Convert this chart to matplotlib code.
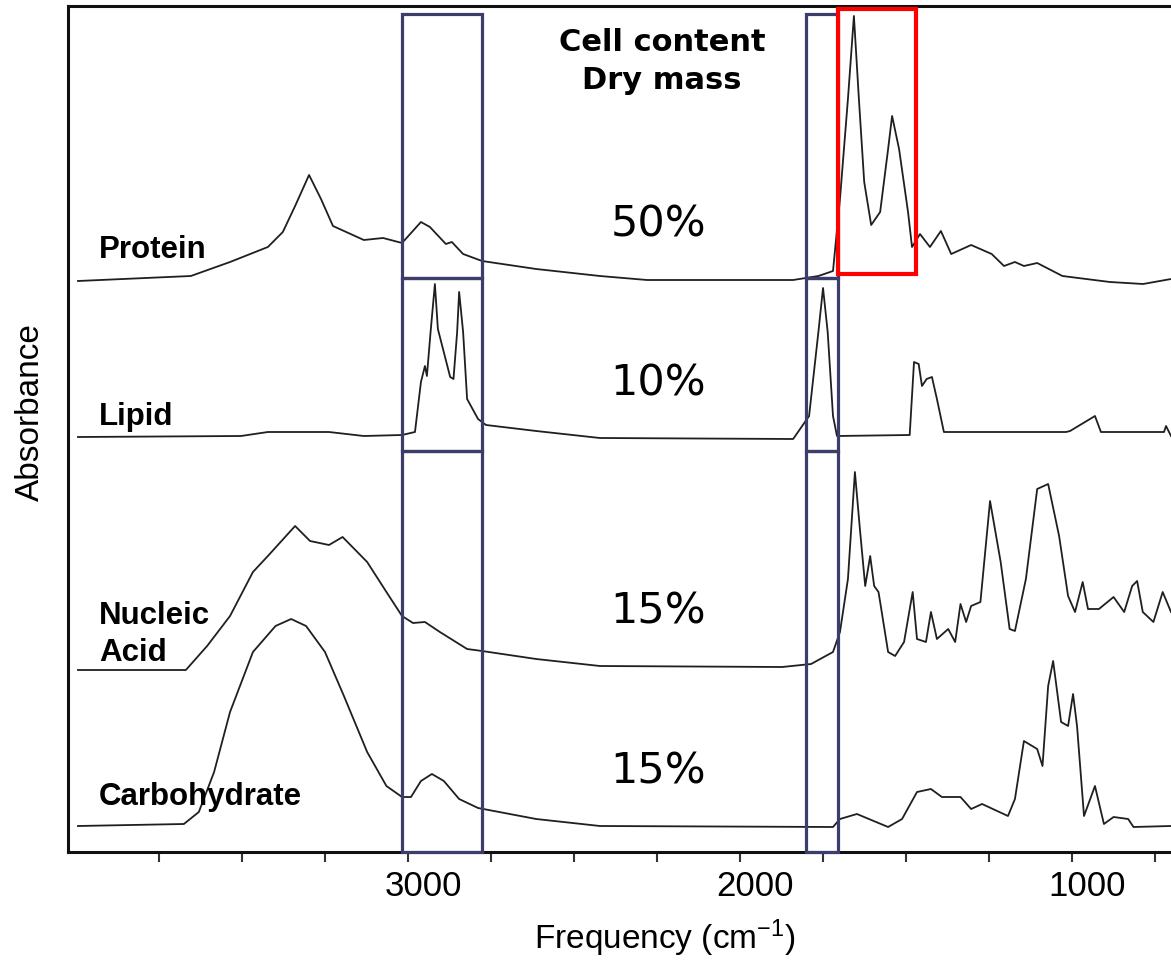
import numpy as np
import matplotlib.pyplot as plt
from matplotlib.patches import Rectangle
from matplotlib.transforms import ScaledTranslation

plt.rcParams['mathtext.default'] = 'regular'

# IR spectra: wavenumber (cm-1) and absorbance above each trace's own baseline
protein_wn = [3994, 3654, 3536, 3422, 3377, 3340, 3298, 3262, 3226, 3133, 3075, 3018,
              2961, 2934, 2886, 2868, 2834, 2777, 2614, 2422, 2280, 1840, 1764, 1720,
              1699, 1675, 1657, 1642, 1626, 1605, 1578, 1554, 1542, 1521, 1494, 1482,
              1458, 1428, 1395, 1364, 1304, 1242, 1205, 1172, 1145, 1105, 1029, 886,
              786, 702]
protein_abs = [0.00, 0.05, 0.19, 0.34, 0.49, 0.75, 1.06, 0.82, 0.55, 0.41, 0.43, 0.38,
               0.59, 0.54, 0.37, 0.39, 0.27, 0.20, 0.12, 0.05, 0.01, 0.01, 0.05, 0.10,
               0.82, 1.82, 2.65, 1.82, 0.99, 0.56, 0.69, 1.32, 1.65, 1.32, 0.69, 0.34,
               0.47, 0.34, 0.50, 0.27, 0.36, 0.27, 0.15, 0.19, 0.15, 0.18, 0.05, -0.01,
               -0.03, 0.02]

lipid_wn = [3994, 3503, 3422, 3238, 3133, 3018, 2979, 2961, 2949, 2943, 2932, 2919,
            2910, 2873, 2863, 2852, 2846, 2834, 2822, 2789, 2765, 2614, 2422, 1840,
            1792, 1764, 1750, 1736, 1720, 1708, 1489, 1476, 1462, 1452, 1438, 1422,
            1407, 1386, 1018, 1006, 931, 913, 723, 717, 702]
lipid_abs = [0.00, 0.01, 0.05, 0.05, 0.01, 0.02, 0.05, 0.55, 0.71, 0.61, 1.05, 1.53,
             1.08, 0.60, 0.58, 1.05, 1.45, 1.05, 0.38, 0.18, 0.12, 0.06, -0.01, -0.02,
             0.21, 1.05, 1.49, 1.05, 0.21, 0.01, 0.02, 0.75, 0.73, 0.51, 0.58, 0.60,
             0.38, 0.05, 0.05, 0.06, 0.21, 0.05, 0.05, 0.11, 0.01]

nucleic_wn = [3994, 3669, 3605, 3536, 3467, 3422, 3340, 3295, 3238, 3197, 3123, 3065,
              3018, 2985, 2949, 2904, 2822, 2777, 2614, 2422, 1873, 1786, 1720, 1699,
              1675, 1654, 1639, 1623, 1608, 1596, 1583, 1578, 1554, 1533, 1506, 1480,
              1467, 1440, 1425, 1407, 1373, 1352, 1336, 1319, 1304, 1276, 1247, 1215,
              1188, 1172, 1139, 1105, 1072, 1039, 1012, 991, 968, 952, 919, 875, 843,
              819, 804, 787, 755, 727, 702]
nucleic_abs = [0.00, 0.00, 0.24, 0.54, 0.98, 1.14, 1.44, 1.29, 1.25, 1.33, 1.08, 0.78,
               0.54, 0.47, 0.48, 0.38, 0.21, 0.19, 0.11, 0.04, 0.03, 0.06, 0.18, 0.38,
               0.91, 1.98, 1.41, 0.84, 1.14, 0.84, 0.78, 0.68, 0.18, 0.14, 0.28, 0.78,
               0.31, 0.28, 0.58, 0.31, 0.41, 0.28, 0.66, 0.48, 0.64, 0.68, 1.69, 1.08,
               0.41, 0.39, 0.91, 1.81, 1.86, 1.34, 0.74, 0.58, 0.88, 0.61, 0.61, 0.73,
               0.58, 0.84, 0.89, 0.58, 0.48, 0.78, 0.58]

carb_wn = [3994, 3675, 3630, 3584, 3536, 3467, 3399, 3352, 3307, 3250, 3193, 3123,
           3065, 3018, 2991, 2961, 2928, 2892, 2846, 2789, 2614, 2422, 1720, 1699,
           1648, 1554, 1512, 1467, 1425, 1392, 1336, 1304, 1271, 1193, 1172, 1145,
           1105, 1089, 1072, 1057, 1033, 1012, 997, 985, 964, 931, 904, 875, 831,
           815, 702]
carb_abs = [0.00, 0.02, 0.14, 0.54, 1.14, 1.74, 2.00, 2.07, 2.00, 1.74, 1.30, 0.74,
            0.40, 0.29, 0.29, 0.45, 0.52, 0.45, 0.27, 0.18, 0.07, 0.00, -0.01, 0.07,
            0.12, -0.01, 0.07, 0.34, 0.37, 0.29, 0.29, 0.17, 0.22, 0.10, 0.27, 0.85,
            0.77, 0.60, 1.40, 1.65, 1.04, 1.00, 1.32, 1.00, 0.10, 0.40, 0.02, 0.09,
            0.07, -0.01, 0.00]

names = ['Protein', 'Lipid', 'Nucleic\nAcid', 'Carbohydrate']
dry_mass = ['50%', '10%', '15%', '15%']

# vertical stacking of the traces
offsets = [5.71, 4.15, 1.82, 0.26]
name_y = [5.95, 4.28, 1.92, 0.48]
pct_y = [6.29, 4.69, 2.42, 0.81]

# highlighted bands (cm-1): C-H stretch, ester C=O, amide I/II
ch_band = (2777, 3018)
co_band = (1705, 1801)
amide_band = (1470, 1705)
row_edges = [0.0, 4.01, 5.74, 8.38]

fig = plt.figure(figsize=(11.71, 9.62), dpi=100)
ax = fig.add_axes([68 / 1171, 109 / 962, 1103 / 1171, 846 / 962])

spectra = [(protein_wn, protein_abs), (lipid_wn, lipid_abs),
           (nucleic_wn, nucleic_abs), (carb_wn, carb_abs)]
for (wn, a), off in zip(spectra, offsets):
    ax.plot(wn, np.array(a) + off, color='#1f1f1f', lw=1.3, solid_joinstyle='round')

ax.set_xlim(4024, 702)
ax.set_ylim(0, 8.46)

box_col = '#3d3d6b'
for lo, hi in (ch_band, co_band):
    for y0, y1 in zip(row_edges[:-1], row_edges[1:]):
        ax.add_patch(Rectangle((lo, y0), hi - lo, y1 - y0, fill=False,
                               ec=box_col, lw=2.3, clip_on=False, zorder=3))
ax.add_patch(Rectangle((amide_band[0], 5.78), amide_band[1] - amide_band[0], 8.43 - 5.78,
                       fill=False, ec='#ff0000', lw=3, clip_on=False, zorder=3))

for name, y in zip(names, name_y):
    ax.text(3931, y, name, fontsize=22.5, fontweight='bold', family='Liberation Sans',
            va='baseline', ha='left', linespacing=1.3)

for pct, y in zip(dry_mass, pct_y):
    ax.text(2247, y, pct, fontsize=31, ha='center', va='center', family='DejaVu Sans')

ax.text(2235, 8.25, 'Cell content\nDry mass', fontsize=22, fontweight='bold',
        ha='center', va='top', family='DejaVu Sans', linespacing=1.4)

# axes styling
for side in ['top', 'left', 'bottom']:
    ax.spines[side].set_linewidth(2.2)
    ax.spines[side].set_color('#111111')
ax.spines['right'].set_visible(False)

ax.set_yticks([])
ax.set_xticks([3000, 2000, 1000])
ax.set_xticks(np.arange(750, 4000, 250), minor=True)
ax.tick_params(axis='x', which='both', direction='out', length=7, width=1.5,
               color='#333333', pad=5, labelsize=25)
shift = ScaledTranslation(15 / 100, 0, fig.dpi_scale_trans)
for lab in ax.get_xticklabels():
    lab.set_family('Liberation Sans')
    lab.set_transform(lab.get_transform() + shift)

ax.set_xlabel('Frequency (cm$^{-1}$)', fontsize=24, family='Liberation Sans')
ax.xaxis.set_label_coords((665 - 68) / 1103, -(918 - 853) / 846)
ax.set_ylabel('Absorbance', fontsize=24, family='Liberation Sans')
ax.yaxis.set_label_coords(-(68 - 46) / 1103, (853 - 412) / 846)

fig.savefig('out.png', dpi=100)
